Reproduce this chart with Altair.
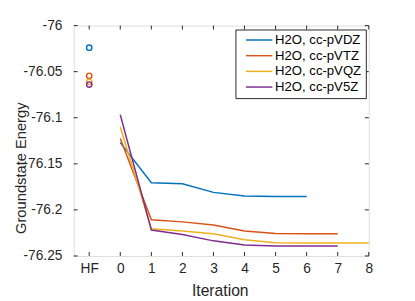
import altair as alt
import pandas as pd

series = ["H2O, cc-pVDZ", "H2O, cc-pVTZ", "H2O, cc-pVQZ", "H2O, cc-pV5Z"]
colors = ["#0072BD", "#D95319", "#EDB120", "#7E2F8E"]

hf_energy = [-76.024, -76.0545, -76.061, -76.064]
vdz = [-76.127, -76.1705, -76.1716, -76.181, -76.185, -76.1855, -76.1855]
vtz = [-76.1225, -76.2108, -76.213, -76.2165, -76.223, -76.2257, -76.226, -76.226]
vqz = [-76.110, -76.2204, -76.2229, -76.226, -76.2325, -76.2357, -76.236, -76.236, -76.236]
v5z = [-76.0968, -76.2218, -76.2268, -76.2336, -76.2382, -76.2393, -76.2393, -76.2393]

x_ticks = [-1, 0, 1, 2, 3, 4, 5, 6, 7, 8]
y_ticks = [-76.25, -76.2, -76.15, -76.1, -76.05, -76.0]

rows = []
for s, vals in zip(series, [vdz, vtz, vqz, v5z]):
    for i, v in enumerate(vals):
        rows.append({"series": s, "iter": i, "energy": v})
df = pd.DataFrame(rows)
hf = pd.DataFrame({"series": series, "iter": [-1] * 4, "energy": hf_energy})
xt = pd.DataFrame({"iter": x_ticks})
yt = pd.DataFrame({"energy": y_ticks})

W, H = 301, 235
FONT = "Liberation Sans"
MINUS = "\u2212"
xscale = alt.Scale(domain=[-1.5, 8], nice=False, zero=False)
yscale = alt.Scale(domain=[-76.25, -76.0], nice=False, zero=False)
cscale = alt.Scale(domain=series, range=colors)

xaxis = alt.Axis(values=x_ticks, labelExpr="datum.value == -1 ? 'HF' : datum.label",
                 tickSize=0, domain=False, grid=False, title="Iteration",
                 labelOverlap=False, labelFlush=False, labelBound=False,
                 labelPadding=6, labelFontSize=14, titleFontSize=16,
                 titleFontWeight="normal", titleX=149, titleY=40,
                 titleBaseline="alphabetic", labelColor="#262626", titleColor="#262626",
                 labelFont=FONT, titleFont=FONT)
yaxis = alt.Axis(values=y_ticks, format="~g",
                 labelExpr="replace(datum.label, '" + MINUS + "', '-')",
                 tickSize=0, domain=False, grid=False, labelOverlap=False, labelFlush=False,
                 labelBound=False,
                 title="Groundstate Energy", labelPadding=12, labelFontSize=14,
                 titleFontSize=15, titleFontWeight="normal", titleX=-49, titleY=145,
                 titleAlign="center",
                 titleBaseline="alphabetic", labelColor="#262626", titleColor="#262626",
                 labelFont=FONT, titleFont=FONT)

X = alt.X("iter:Q", scale=xscale, axis=xaxis)
Y = alt.Y("energy:Q", scale=yscale, axis=yaxis)

lines = alt.Chart(df).mark_line(strokeWidth=1.5).encode(
    x=X, y=Y,
    color=alt.Color("series:N", scale=cscale, sort=series,
                    legend=alt.Legend(title=None, orient="none", legendX=165, legendY=4,
                                      symbolType="M0,0H27", symbolStrokeWidth=1.5,
                                      symbolSize=4, labelFontSize=13.4, labelFont=FONT,
                                      labelColor="#000000", fillColor="white",
                                      strokeColor="#262626", padding=4, rowPadding=1,
                                      labelOffset=23)),
    detail="series:N",
)

pts = alt.Chart(hf).mark_point(filled=False, strokeWidth=1.5, size=30, opacity=1).encode(
    x=X, y=Y,
    color=alt.Color("series:N", scale=cscale, legend=None),
)

tick_color = "#262626"
bottom_ticks = alt.Chart(xt).mark_rule(color=tick_color, strokeWidth=1).encode(
    x=X, y=alt.value(H - 4), y2=alt.value(H))
top_ticks = alt.Chart(xt).mark_rule(color=tick_color, strokeWidth=1).encode(
    x=X, y=alt.value(0), y2=alt.value(4))
left_ticks = alt.Chart(yt).mark_rule(color=tick_color, strokeWidth=1).encode(
    y=Y, x=alt.value(0), x2=alt.value(4))
right_ticks = alt.Chart(yt).mark_rule(color=tick_color, strokeWidth=1).encode(
    y=Y, x=alt.value(W - 4), x2=alt.value(W))

chart = alt.layer(lines, pts, bottom_ticks, top_ticks, left_ticks, right_ticks).properties(
    width=W, height=H,
    autosize=alt.AutoSizeParams(type="none"),
    padding={"left": 67, "top": 15, "right": 39, "bottom": 43},
).configure_view(stroke="#262626", strokeWidth=1).configure(background="white")

chart.save("out.html", embed_options={"renderer": "svg", "actions": False})
